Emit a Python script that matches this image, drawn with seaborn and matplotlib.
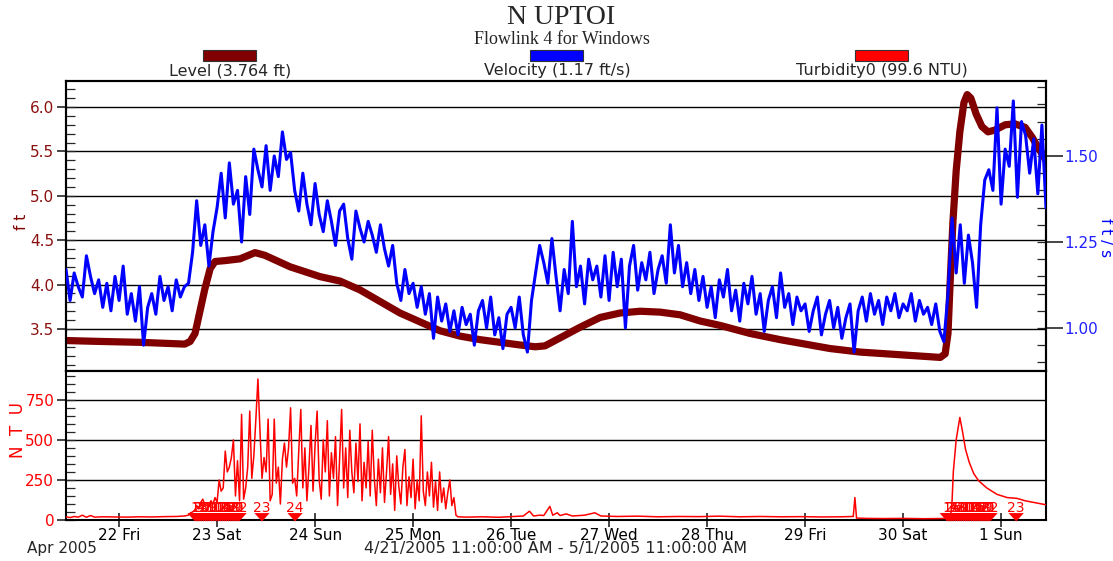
import matplotlib
matplotlib.use("Agg")
import matplotlib.pyplot as plt
from matplotlib.patches import Rectangle
from matplotlib.ticker import MultipleLocator, FixedLocator, FormatStrFormatter, NullLocator
import numpy as np
import pandas as pd
import seaborn as sns

# ---------------------------------------------------------------- data
START = pd.Timestamp("2005-04-21 11:00")
END = pd.Timestamp("2005-05-01 11:00")

# Level (ft): hours after START and readings
level_hours = [0, 8.3, 18.1, 29.1, 30.4, 31.6, 32.8, 34.0, 35.3, 36.5, 38.9, 42.6,
               46.3, 48.7, 54.9, 62.2, 67.1, 72.0, 76.9, 81.8, 86.7, 91.6, 96.5,
               101.4, 106.3, 111.2, 114.9, 117.3, 121.0, 125.9, 130.8, 135.7,
               140.6, 145.5, 150.4, 155.3, 160.2, 167.5, 174.9, 179.8, 187.1,
               194.5, 204.3, 214.1, 215.3, 216.0, 216.5, 217.2, 218.0, 218.9,
               219.9, 220.7, 221.6, 222.9, 224.3, 225.8, 227.5, 230.0, 232.4,
               234.9, 236.6, 238.1, 240.0]
level_ft = [3.37, 3.36, 3.35, 3.33, 3.36, 3.45, 3.70, 3.95, 4.18, 4.26, 4.27, 4.29,
            4.36, 4.33, 4.20, 4.09, 4.04, 3.94, 3.81, 3.68, 3.58, 3.48, 3.42,
            3.38, 3.35, 3.32, 3.30, 3.31, 3.40, 3.52, 3.63, 3.68,
            3.70, 3.69, 3.66, 3.59, 3.54, 3.45, 3.38, 3.34, 3.28,
            3.24, 3.21, 3.18, 3.22, 3.45, 4.00, 4.70, 5.28, 5.72,
            6.05, 6.14, 6.10, 5.92, 5.78, 5.72, 5.74, 5.80, 5.81,
            5.77, 5.66, 5.54, 5.40]

# Velocity (ft/s): hourly readings from START
velocity_fps = [
    1.17, 1.08, 1.16, 1.12, 1.09, 1.21, 1.15, 1.10, 1.14, 1.06, 1.13,
    1.05, 1.15, 1.08, 1.18, 1.04, 1.10, 1.02, 1.12, 0.95, 1.06, 1.10, 1.04,
    1.15, 1.08, 1.12, 1.05, 1.14, 1.09, 1.12,
    1.13, 1.22, 1.37, 1.24, 1.30, 1.18, 1.28, 1.35,
    1.45, 1.32, 1.48, 1.36, 1.40, 1.25, 1.44, 1.33, 1.52, 1.46, 1.41, 1.53,
    1.40, 1.50, 1.44, 1.57, 1.49, 1.51,
    1.40, 1.34, 1.45, 1.36, 1.30, 1.42, 1.33,
    1.28, 1.37, 1.31, 1.24, 1.34, 1.36, 1.26, 1.20, 1.34, 1.29, 1.25, 1.31,
    1.27, 1.22, 1.30,
    1.23, 1.18, 1.24, 1.13, 1.08, 1.17, 1.10,
    1.13, 1.06, 1.12, 1.04, 1.10, 0.97, 1.09, 1.02, 1.07, 0.99, 1.05, 0.98,
    1.06, 1.01, 1.04, 0.95, 1.05, 1.08, 1.00, 1.09, 0.98, 1.03, 0.94, 1.04,
    1.06, 1.00, 1.09, 0.98, 0.93, 1.08, 1.16,
    1.24, 1.19, 1.13, 1.26, 1.15, 1.05, 1.17, 1.10, 1.31, 1.12, 1.18, 1.07,
    1.20, 1.14, 1.18, 1.09,
    1.21, 1.08, 1.22, 1.12, 1.20, 1.00, 1.18, 1.24, 1.11, 1.19, 1.14, 1.22,
    1.10, 1.17, 1.21, 1.13, 1.30, 1.16, 1.24, 1.12, 1.19, 1.10, 1.17, 1.08,
    1.15, 1.06, 1.12, 1.03, 1.14, 1.09, 1.17, 1.05, 1.11, 1.02, 1.13, 1.07,
    1.15, 1.04, 1.10, 0.99, 1.08, 1.12, 1.03, 1.16, 1.06, 1.10, 1.01, 1.09, 1.05,
    1.07, 0.99, 1.05, 1.09, 0.98, 1.04, 1.08, 1.00, 1.06, 0.97, 1.03, 1.07,
    0.93, 1.05, 1.09, 1.02, 1.10, 1.04, 1.08, 1.01, 1.09, 1.05, 1.10, 1.03, 1.07,
    1.05, 1.10, 1.02, 1.08, 1.04, 1.06, 1.01, 1.07, 0.99, 0.96, 1.10, 1.32,
    1.16, 1.30, 1.13, 1.27, 1.19, 1.06, 1.30, 1.43, 1.46, 1.40, 1.64, 1.36,
    1.52, 1.47, 1.66, 1.38, 1.60, 1.56, 1.45, 1.55, 1.39, 1.59, 1.35,
]

# Turbidity (NTU): hours after START and readings
turb_hours = [0, 1, 2, 3, 4, 5, 6, 7, 9, 12, 15, 18, 21, 24, 27, 29,
              30, 30.5, 31, 31.5, 32, 32.5, 33, 33.5, 34, 34.5, 35, 35.5, 36, 36.5,
              37, 37.5, 38, 38.5, 39, 39.5, 40, 40.5, 41, 41.5, 42, 42.5, 43, 43.5,
              44, 44.5, 45, 45.5, 46, 46.5, 47, 47.5, 48, 48.5, 49, 49.5, 50, 50.5,
              51, 51.5, 52, 52.5, 53, 53.5, 54, 54.5, 55, 55.5, 56, 56.5, 57, 57.5,
              58, 58.5, 59, 59.5, 60, 60.5, 61, 61.5, 62, 62.5, 63, 63.5, 64, 64.5,
              65, 65.5, 66, 66.5, 67, 67.5, 68, 68.5, 69, 69.5, 70, 70.5, 71, 71.5,
              72, 72.5, 73, 73.5, 74, 74.5, 75, 75.5, 76, 76.5, 77, 77.5, 78, 78.5,
              79, 79.5, 80, 80.5, 81, 81.5, 82, 82.5, 83, 83.5, 84, 84.5, 85, 85.5,
              86, 86.5, 87, 87.5, 88, 88.5, 89, 89.5, 90, 90.5, 91, 91.5, 92, 92.5,
              93, 93.5, 94, 94.5, 95, 95.5, 96,
              98, 102, 106, 110, 112, 113.5, 114.5, 116, 117, 118.5, 119.2, 120.3,
              121, 122.5, 124, 127, 129.5, 131, 135, 140, 145, 150, 155, 160, 165,
              170, 175, 180, 185, 190, 192.8, 193.2, 193.6, 196, 200, 205, 210,
              215, 216.6, 217.0, 217.3, 218.0, 218.9, 219.5, 220.3, 221.2, 222.3,
              223.5, 225.5, 228.0, 230.5, 232.9, 234.9, 237.3, 240.0]
turb_ntu = [20, 15, 22, 18, 30, 17, 28, 18, 20, 19, 18, 20, 19, 21, 22, 25,
            30, 45, 50, 60, 90, 70, 110, 130, 95, 105, 90, 120, 100, 140,
            110, 250, 180, 200, 430, 300, 330, 390, 500, 150, 370, 120, 660, 130,
            200, 330, 680, 260, 400, 630, 880, 560, 260, 390, 300, 630, 120, 160,
            630, 230, 330, 100, 380, 480, 330, 450, 700, 230, 260, 150, 430, 690,
            200, 450, 120, 330, 590, 180, 470, 680, 250, 130, 500, 300, 620, 150,
            420, 260, 520, 90, 380, 690, 200, 450, 140, 560, 300, 170, 480, 240,
            600, 120, 360, 200, 490, 150, 560, 260, 90, 380, 170, 450, 110, 300,
            520, 160, 350, 60, 400, 210, 100, 330, 440, 90, 270, 140, 380, 70,
            250, 120, 650, 180, 90, 300, 150, 360, 80, 240, 60, 300, 110, 200,
            70, 170, 250, 90, 140, 30, 20,
            18, 20, 17, 22, 25, 55, 25, 30, 28, 85, 30, 45,
            28, 38, 25, 30, 45, 25, 22, 24, 20, 22, 21, 24, 20,
            22, 20, 21, 19, 20, 22, 140, 12, 10, 9, 10, 8,
            9, 10, 120, 300, 500, 640, 560, 440, 360, 290,
            245, 200, 160, 140, 135, 120, 108, 95]

# Sampler bottle events (hours after START) and their bottle numbers
sample_hours = [31.6, 32.1, 32.6, 33.1, 33.7, 34.2, 34.7, 35.2, 35.7, 36.2, 36.8,
                37.3, 37.8, 38.3, 38.8, 39.3, 39.8, 40.4, 40.9, 41.4, 41.9, 42.4,
                48.0, 56.1,
                215.8, 216.3, 216.8, 217.3, 217.8, 218.3, 218.8, 219.3, 219.8,
                220.3, 220.8, 221.3, 221.8, 222.3, 222.8, 223.3, 223.8, 224.3,
                224.8, 225.3, 225.8, 226.3, 232.7]
sample_labels = ([str(n) for n in range(1, 25)] + [str(n) for n in range(1, 24)])

day_labels = ["22 Fri", "23 Sat", "24 Sun", "25 Mon", "26 Tue",
              "27 Wed", "28 Thu", "29 Fri", "30 Sat", "1 Sun"]

legend_items = ["Level (3.764 ft)", "Velocity (1.17 ft/s)", "Turbidity0 (99.6 NTU)"]

# ---------------------------------------------------------------- style
LEVEL_C = "#800000"
VEL_C = "#0000FF"
TURB_C = "#FF0000"
SANS = ["DejaVu Sans"]
SERIF = ["Liberation Serif", "DejaVu Serif"]
FS = 11          # general text size (pt)
PX = 100 / 72    # pixels per point at 100 dpi

sns.set_theme(style="ticks")
plt.rcParams["font.family"] = SANS

def to_time(hours):
    return START + pd.to_timedelta(np.asarray(hours, dtype=float), unit="h")

level_df = pd.DataFrame({"time": to_time(level_hours), "ft": level_ft})
vel_df = pd.DataFrame({"time": to_time(np.arange(len(velocity_fps))), "fps": velocity_fps})
turb_df = pd.DataFrame({"time": to_time(turb_hours), "ntu": turb_ntu})
samp_time = to_time(sample_hours)

W, H = 1113, 561
fig = plt.figure(figsize=(W / 100, H / 100), dpi=100)

def box(left, top, right, bottom):
    return [left / W, 1 - bottom / H, (right - left) / W, (bottom - top) / H]

ax_lvl = fig.add_axes(box(66, 81, 1046, 371))
ax_ntu = fig.add_axes(box(66, 371, 1046, 520))
ax_vel = ax_lvl.twinx()

# ---------------------------------------------------------------- series
sns.lineplot(data=level_df, x="time", y="ft", ax=ax_lvl, color=LEVEL_C,
             lw=5.2, sort=False, estimator=None, zorder=3)
sns.lineplot(data=vel_df, x="time", y="fps", ax=ax_vel, color=VEL_C,
             lw=2.2, sort=False, estimator=None, zorder=3)
sns.lineplot(data=turb_df, x="time", y="ntu", ax=ax_ntu, color=TURB_C,
             lw=1.1, sort=False, estimator=None, zorder=3)

# sampler bottle markers: flat downward triangles with bottle numbers
tri = [(-1.0, 0.55), (1.0, 0.55), (0.0, -0.55)]
sns.scatterplot(x=samp_time, y=[17] * len(samp_time), ax=ax_ntu, marker=tri,
                s=120, color=TURB_C, edgecolor="none", linewidth=0,
                legend=False, zorder=5, clip_on=False)
for t, lab in zip(samp_time, sample_labels):
    ax_ntu.text(t, 72, lab, ha="center", va="center", color=TURB_C,
                fontsize=10, zorder=6)

for a in (ax_lvl, ax_vel, ax_ntu):
    a.set_xlim(START, END)
    a.set_xlabel("")
    a.set_ylabel("")
    for sp in a.spines.values():
        sp.set_visible(True)
        sp.set_color("black")
        sp.set_linewidth(1.5)

# ---------------------------------------------------------------- upper panel axes
ax_lvl.set_ylim(3.027, 6.293)
ax_lvl.yaxis.set_major_locator(MultipleLocator(0.5))
ax_lvl.yaxis.set_minor_locator(MultipleLocator(0.1))
ax_lvl.yaxis.set_major_formatter(FormatStrFormatter("%.1f"))
ax_lvl.yaxis.remove_overlapping_locs = False
ax_lvl.tick_params(axis="y", which="major", direction="out", length=9 / PX, width=1.2,
                   labelsize=FS, labelcolor="#8B1010", pad=2, left=True)
ax_lvl.tick_params(axis="y", which="minor", direction="in", length=9 / PX, width=0.9, left=True)
ax_lvl.grid(axis="y", which="major", color="black", lw=1.0)
ax_lvl.tick_params(axis="x", which="both", bottom=False, labelbottom=False)

ax_vel.set_ylim(0.875, 1.718)
ax_vel.yaxis.set_major_locator(FixedLocator([1.0, 1.25, 1.5]))
ax_vel.yaxis.set_minor_locator(MultipleLocator(0.05))
ax_vel.yaxis.set_major_formatter(FormatStrFormatter("%.2f"))
ax_vel.yaxis.remove_overlapping_locs = False
ax_vel.tick_params(axis="y", which="major", direction="out", length=17 / PX, width=1.2,
                   labelsize=FS, labelcolor="#2020FF", pad=1, right=True)
ax_vel.tick_params(axis="y", which="minor", direction="in", length=9 / PX, width=0.9, right=True)
ax_vel.tick_params(axis="x", which="both", bottom=False, labelbottom=False)
ax_vel.grid(False)

# ---------------------------------------------------------------- lower panel axes
ax_ntu.set_ylim(0, 930)
ax_ntu.yaxis.set_major_locator(FixedLocator([0, 250, 500, 750]))
ax_ntu.yaxis.set_minor_locator(MultipleLocator(50))
ax_ntu.yaxis.remove_overlapping_locs = False
ax_ntu.tick_params(axis="y", which="major", direction="out", length=9 / PX, width=1.2,
                   labelsize=FS, labelcolor=TURB_C, pad=2, left=True)
ax_ntu.tick_params(axis="y", which="minor", direction="in", length=9 / PX, width=0.9, left=True)
ax_ntu.grid(axis="y", which="major", color="black", lw=1.0)

midnights = pd.date_range("2005-04-22", "2005-05-01", freq="D")
ax_ntu.set_xticks(midnights)
ax_ntu.set_xticklabels(day_labels)
ax_ntu.xaxis.set_minor_locator(NullLocator())
ax_ntu.tick_params(axis="x", which="major", direction="inout", length=14 / PX, width=1.2,
                   labelsize=FS, labelcolor="black", pad=1, bottom=True)

# ---------------------------------------------------------------- titles, legend
fig.text(561 / W, 1 - 18 / H, "N UPTOI", family=SERIF,
         fontsize=20, ha="center", va="center")
fig.text(562 / W, 1 - 40 / H, "Flowlink 4 for Windows", family=SERIF,
         fontsize=13, ha="center", va="center")

swatch_x = [203, 530, 855]
swatch_c = [LEVEL_C, VEL_C, TURB_C]
for x0, c, lab in zip(swatch_x, swatch_c, legend_items):
    fig.patches.append(Rectangle((x0 / W, 1 - 61 / H), 53 / W, 11 / H,
                                 transform=fig.transFigure, facecolor=c,
                                 edgecolor="#333333", lw=0.8))
    fig.text((x0 + 27) / W, 1 - 71 / H, lab, fontsize=11.5, ha="center", va="center")

fig.text(22 / W, 1 - 222 / H, "f t", color=LEVEL_C, fontsize=FS, rotation=90,
         ha="center", va="center")
fig.text(1105 / W, 1 - 238 / H, "f t / s", color=VEL_C, fontsize=FS, rotation=270,
         ha="center", va="center")
fig.text(18 / W, 1 - 430 / H, "N  T  U", color=TURB_C, fontsize=12, rotation=90,
         ha="center", va="center")

fig.text(27 / W, 1 - 549 / H, "Apr 2005", fontsize=FS, ha="left", va="center")
fig.text(556 / W, 1 - 549 / H, "4/21/2005 11:00:00 AM - 5/1/2005 11:00:00 AM",
         fontsize=11.5, ha="center", va="center")

fig.savefig("out.png", dpi=100)
